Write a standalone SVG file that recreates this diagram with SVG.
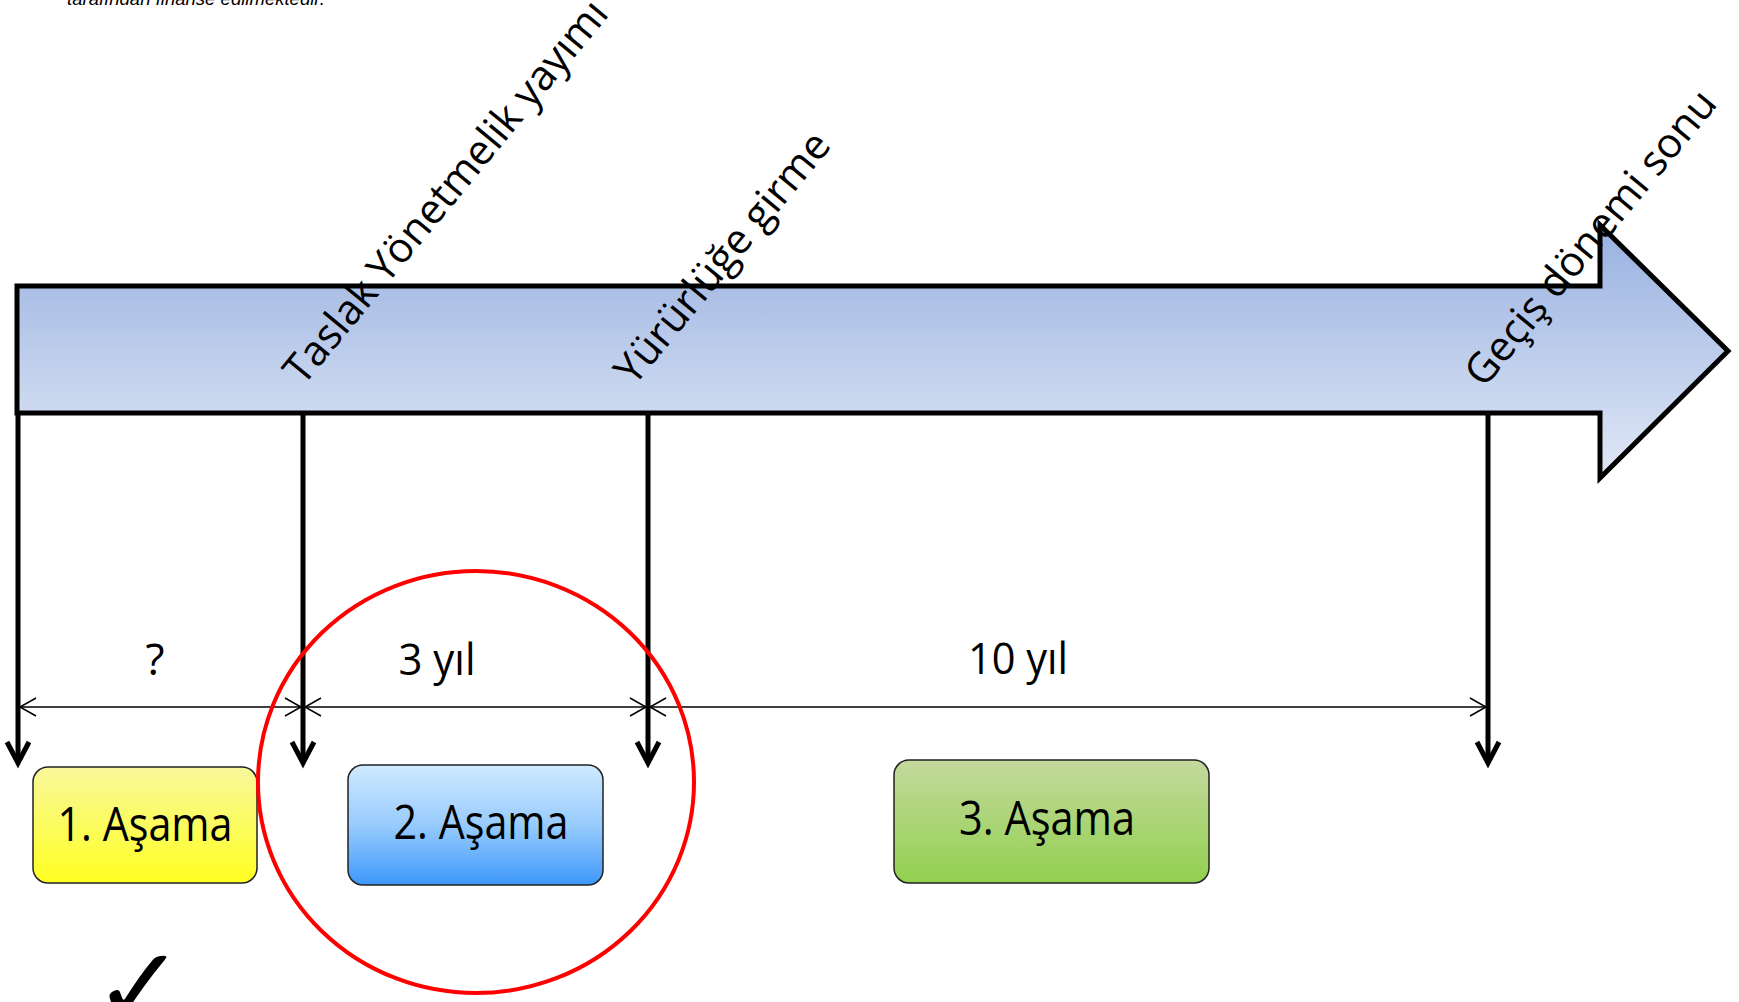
<svg xmlns="http://www.w3.org/2000/svg" width="1739" height="1002" viewBox="0 0 1739 1002">
  <defs>
    <linearGradient id="gArrow" x1="0" y1="0" x2="0" y2="1">
      <stop offset="0" stop-color="#98b1e0"/>
      <stop offset="1" stop-color="#e1e8f6"/>
    </linearGradient>
    <linearGradient id="gYellow" x1="0" y1="0" x2="0" y2="1">
      <stop offset="0" stop-color="#f8f89c"/>
      <stop offset="1" stop-color="#ffff22"/>
    </linearGradient>
    <linearGradient id="gBlue" x1="0" y1="0" x2="0" y2="1">
      <stop offset="0" stop-color="#cfeaff"/>
      <stop offset="0.5" stop-color="#98cbfd"/>
      <stop offset="1" stop-color="#3d98fb"/>
    </linearGradient>
    <linearGradient id="gGreen" x1="0" y1="0" x2="0" y2="1">
      <stop offset="0" stop-color="#c4d99d"/>
      <stop offset="1" stop-color="#92d050"/>
    </linearGradient>
    <!-- open chevron for the dimension lines -->
    <marker id="dimHead" markerUnits="userSpaceOnUse" markerWidth="40" markerHeight="40" refX="0" refY="0" orient="auto-start-reverse" overflow="visible">
      <path d="M-16,-9 L0,0 L-16,9" fill="none" stroke="#000" stroke-width="1.5"/>
    </marker>
    <!-- heavy chevron for the milestone drop lines -->
    <marker id="dropHead" markerUnits="userSpaceOnUse" markerWidth="60" markerHeight="60" refX="0" refY="0" orient="auto" overflow="visible">
      <path d="M-19,-11 L2,0 L-19,11" fill="none" stroke="#000" stroke-width="5" stroke-linejoin="miter"/>
    </marker>
  </defs>
  <style>
    .lbl { font-family: "Open Sans", "Noto Sans", "DejaVu Sans", sans-serif; fill: #000; }
    .rot { font-size: 41.5px; }
    .dim { font-size: 44px; }
    .stage { font-size: 48px; }
    .box { stroke: #222; stroke-width: 1.5; }
    .drop { stroke: #000; stroke-width: 5; fill: none; marker-end: url(#dropHead); }
    .dimline { stroke: #000; stroke-width: 1.5; fill: none; marker-start: url(#dimHead); marker-end: url(#dimHead); }
  </style>

  <rect width="1739" height="1002" fill="#fff"/>

  <!-- footer line of the preceding page -->
  <text x="67" y="5" font-family="Liberation Sans, Arial, sans-serif" font-style="italic" font-size="18" textLength="258" lengthAdjust="spacingAndGlyphs">tarafından finanse edilmektedir.</text>

  <!-- timeline arrow -->
  <g id="timeline">
    <polygon points="17,286 1600,286 1600,225 1728,351 1600,478 1600,413 17,413" fill="url(#gArrow)" stroke="#000" stroke-width="5" stroke-linejoin="miter"/>
  </g>

  <!-- milestone drop lines and dimension lines -->
  <g id="connectors">
    <line class="drop" x1="18" y1="413" x2="18" y2="761"/>
    <line class="drop" x1="303" y1="413" x2="303" y2="761"/>
    <line class="drop" x1="648" y1="413" x2="648" y2="761"/>
    <line class="drop" x1="1488" y1="413" x2="1488" y2="761"/>

    <line class="dimline" x1="20" y1="707" x2="301" y2="707"/>
    <line class="dimline" x1="305" y1="707" x2="646" y2="707"/>
    <line class="dimline" x1="650" y1="707" x2="1486" y2="707"/>
  </g>

  <!-- milestone labels -->
  <g id="milestone-draft">
    <text class="lbl rot" transform="translate(303,387) rotate(-50.5)">Taslak Yönetmelik yayımı</text>
  </g>
  <g id="milestone-entry">
    <text class="lbl rot" transform="translate(634,387) rotate(-50.5)">Yürürlüğe girme</text>
  </g>
  <g id="milestone-end">
    <text class="lbl rot" transform="translate(1484,389) rotate(-50.5)">Geçiş dönemi sonu</text>
  </g>

  <!-- period durations -->
  <g id="durations">
    <text class="lbl dim" x="155" y="675" text-anchor="middle">?</text>
    <text class="lbl dim" x="437" y="675" text-anchor="middle" textLength="77" lengthAdjust="spacingAndGlyphs">3 yıl</text>
    <text class="lbl dim" x="1018" y="674" text-anchor="middle" textLength="100" lengthAdjust="spacingAndGlyphs">10 yıl</text>
  </g>

  <!-- stages -->
  <g id="stage-1">
    <rect class="box" x="33" y="767" width="224" height="116" rx="15" fill="url(#gYellow)"/>
    <text class="lbl stage" x="145" y="841" text-anchor="middle" textLength="175" lengthAdjust="spacingAndGlyphs">1. Aşama</text>
  </g>
  <g id="stage-2">
    <rect class="box" x="348" y="765" width="255" height="120" rx="15" fill="url(#gBlue)"/>
    <text class="lbl stage" x="481" y="839" text-anchor="middle" textLength="175" lengthAdjust="spacingAndGlyphs">2. Aşama</text>
  </g>
  <g id="stage-3">
    <rect class="box" x="894" y="760" width="315" height="123" rx="15" fill="url(#gGreen)"/>
    <text class="lbl stage" x="1047" y="835" text-anchor="middle" textLength="176" lengthAdjust="spacingAndGlyphs">3. Aşama</text>
  </g>

  <!-- highlight around stage 2 -->
  <ellipse id="highlight" cx="476" cy="782" rx="218" ry="211" fill="none" stroke="#ff0000" stroke-width="4"/>

  <!-- tick mark -->
  <text id="tick" x="93" y="1025" font-family="DejaVu Sans, sans-serif" font-size="110">✓</text>
</svg>
